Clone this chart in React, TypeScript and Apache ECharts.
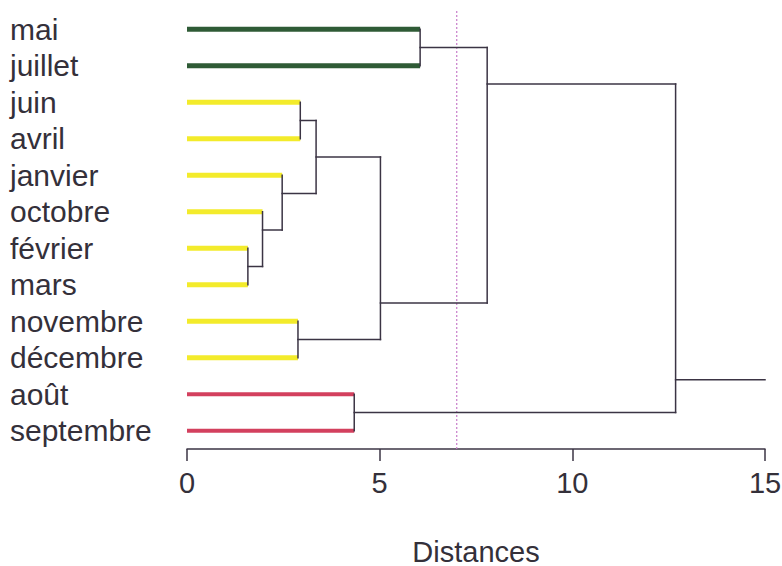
import React, { useEffect, useRef } from "react";
import * as echarts from "echarts";

// Leaves of the dendrogram, top to bottom
const leaves = [
  "mai", "juillet", "juin", "avril", "janvier", "octobre",
  "février", "mars", "novembre", "décembre", "août", "septembre",
];
// Cluster membership of each leaf (0: green, 1: yellow, 2: red)
const leafCluster = [0, 0, 1, 1, 1, 1, 1, 1, 1, 1, 2, 2];

// Agglomeration steps: node id, its two children, fusion distance, vertical position
const mergeIds = ["n1", "n2", "n3", "n4", "n5", "n6", "n7", "n8", "n9", "n10", "n11"];
const mergeLeft = ["février", "octobre", "janvier", "novembre", "juin", "n5", "août", "n6", "mai", "n9", "n10"];
const mergeRight = ["mars", "n1", "n2", "décembre", "avril", "n3", "septembre", "n4", "juillet", "n8", "n7"];
const mergeHeight = [1.58, 1.96, 2.47, 2.88, 2.94, 3.35, 4.34, 5.02, 6.05, 7.79, 12.68];
const mergePosition = [6.5, 5.5, 4.5, 8.5, 2.5, 3.5, 10.5, 7.5, 0.5, 1.5, 9.6];

const distanceTicks = [0, 5, 10, 15];
const cutDistance = 7;

const clusterColors = ["#2f5b36", "#f3eb2b", "#d3405e"];
const linkColor = "#3b3444";
const cutColor = "#c77bc9";
const textColor = "#34303a";
const FONT = "'Liberation Sans', Arial, sans-serif";

// Segment kinds: 0..2 leaf branches by cluster, 3 internal link, 4 cut line
function buildSegments(): number[][] {
  const pos: Record<string, number> = {};
  const height: Record<string, number> = {};
  leaves.forEach((name, i) => {
    pos[name] = i;
    height[name] = 0;
  });
  mergeIds.forEach((id, k) => {
    pos[id] = mergePosition[k];
    height[id] = mergeHeight[k];
  });
  const leafSegs: number[][] = [];
  const linkSegs: number[][] = [];
  const branch = (child: string, h: number) => {
    const li = leaves.indexOf(child);
    const seg = [height[child], pos[child], h, pos[child]];
    if (li >= 0) leafSegs.push([...seg, leafCluster[li]]);
    else linkSegs.push([...seg, 3]);
  };
  mergeIds.forEach((id, k) => {
    const h = mergeHeight[k];
    branch(mergeLeft[k], h);
    branch(mergeRight[k], h);
    linkSegs.push([h, pos[mergeLeft[k]], h, pos[mergeRight[k]], 3]);
  });
  // stem of the root node
  const root = mergeIds[mergeIds.length - 1];
  linkSegs.push([height[root], pos[root], distanceTicks[distanceTicks.length - 1], pos[root], 3]);
  const cut = [[cutDistance, -0.5, cutDistance, leaves.length - 0.5, 4]];
  return [...cut, ...leafSegs, ...linkSegs];
}

export default function App() {
  const ref = useRef<HTMLDivElement>(null);

  useEffect(() => {
    if (!ref.current) return;
    const chart = echarts.init(ref.current, null, { renderer: "svg" });
    const segments = buildSegments();
    const widths = [5, 5, 4, 1.5, 1.2];

    chart.setOption({
      animation: false,
      backgroundColor: "#ffffff",
      grid: {
        left: 187,
        right: 17,
        top: 11,
        bottom: 117,
        containLabel: false,
        outerBoundsMode: "none",
      },
      xAxis: {
        type: "value",
        min: distanceTicks[0],
        max: distanceTicks[distanceTicks.length - 1],
        interval: 5,
        splitLine: { show: false },
        axisLine: { show: true, onZero: false, lineStyle: { color: linkColor, width: 1.5 } },
        axisTick: { show: true, length: 12, lineStyle: { color: linkColor, width: 1.5 } },
        axisLabel: { fontSize: 29, fontFamily: FONT, color: textColor, margin: 19 },
        name: "Distances",
        nameLocation: "middle",
        nameGap: 88,
        nameTextStyle: { fontSize: 29, fontFamily: FONT, color: textColor },
      },
      yAxis: [
        {
          type: "value",
          inverse: true,
          min: -0.5,
          max: leaves.length - 0.5,
          show: false,
        },
        {
          type: "category",
          inverse: true,
          position: "left",
          data: leaves,
          axisLine: { show: false },
          axisTick: { show: false },
          splitLine: { show: false },
          axisLabel: {
            interval: 0,
            fontSize: 30,
            fontFamily: FONT,
            color: textColor,
            align: "left",
            margin: 177,
          },
        },
      ],
      series: [
        {
          type: "custom",
          yAxisIndex: 0,
          data: segments,
          encode: { x: [0, 2], y: [1, 3] },
          renderItem: (_params: any, api: any) => {
            const p1 = api.coord([api.value(0), api.value(1)]);
            const p2 = api.coord([api.value(2), api.value(3)]);
            const k = api.value(4) as number;
            const stroke = k < 3 ? clusterColors[k] : k === 3 ? linkColor : cutColor;
            return {
              type: "line",
              shape: { x1: p1[0], y1: p1[1], x2: p2[0], y2: p2[1] },
              style: {
                stroke,
                lineWidth: widths[k],
                lineDash: k === 4 ? [2, 2] : null,
                lineCap: k === 3 ? "square" : "butt",
              },
            };
          },
        },
      ],
    });

    return () => chart.dispose();
  }, []);

  return (
    <div
      ref={ref}
      style={{ position: "fixed", left: 0, top: 0, width: 782, height: 566 }}
    />
  );
}
